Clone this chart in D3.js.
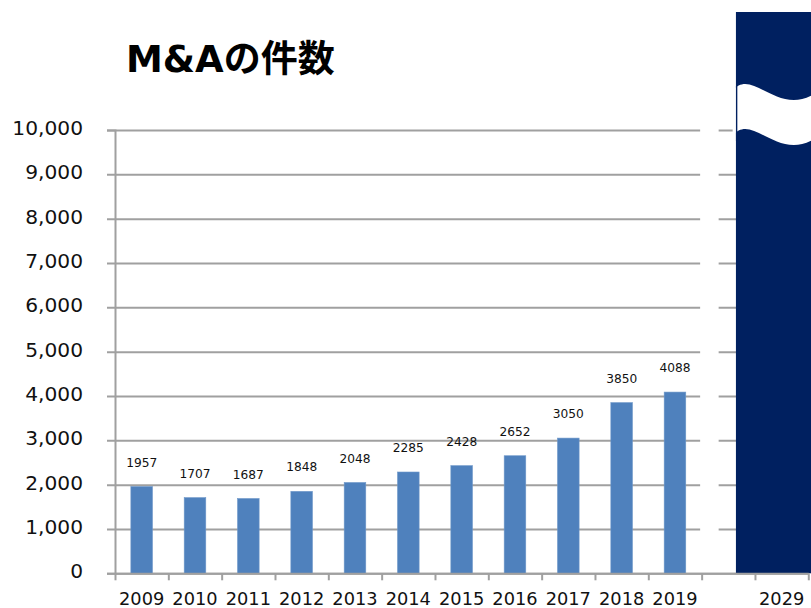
<!DOCTYPE html>
<html>
<head>
<meta charset="utf-8">
<script src="https://cdn.jsdelivr.net/npm/d3@7"></script>
<style>
  body{margin:0;background:#fff}
  text{font-family:"DejaVu Sans","Noto Sans CJK JP",sans-serif}
</style>
</head>
<body>
<div id="chart"></div>
<script>
// data
const categories=['2009','2010','2011','2012','2013','2014','2015','2016','2017','2018','2019','gap','2029']
const tickLabels=['2009','2010','2011','2012','2013','2014','2015','2016','2017','2018','2019','','2029']
const values=[1957,1707,1687,1848,2048,2285,2428,2652,3050,3850,4088,null,null]
const yTicks=[0,1000,2000,3000,4000,5000,6000,7000,8000,9000,10000]
const title='M&Aの件数'

const W=811,H=608
const margin=({top:130,right:2.7,bottom:35,left:115})
const width=W-margin.left-margin.right,
  height=573.3-margin.top

const svg=d3.select('#chart').append('svg')
  .attr('width',W).attr('height',H)

svg.append('text')
  .attr('x',126).attr('y',72)
  .attr('font-size',37).attr('font-weight','bold')
  .attr('fill','#000')
  .text(title)

const g=svg.append('g')
  .attr('transform','translate('+margin.left+','+margin.top+')')

const xScale=d3.scaleBand().domain(categories).range([0,width]).padding(0)
const xLin=d3.scaleLinear().domain([0,categories.length]).range([0,width])
const yScale=d3.scaleLinear().domain([0,10000]).range([height,0])

// gridlines + y axis
const yAxis=d3.axisLeft(yScale).tickValues(yTicks).tickSize(8).tickPadding(24)
  .tickFormat(d3.format(','))
const ya=g.append('g').attr('class','y-axis').call(yAxis)
ya.select('.domain').attr('stroke','#a0a0a0').attr('stroke-width',2)
ya.selectAll('.tick line').attr('stroke','#a0a0a0').attr('stroke-width',2)
  .attr('x2',width)
  .attr('x1',-8)
ya.selectAll('.tick text').attr('font-size',20.2).attr('fill','#111')
  .attr('font-family','"DejaVu Sans",sans-serif').attr('dy','0.22em')

// bars
const bw=xScale.bandwidth()*0.405
const barData=categories.map((c,i)=>({c,v:values[i]})).filter(d=>d.v!=null)
g.selectAll('.bar').data(barData)
  .enter().append('rect')
  .attr('class','bar')
  .attr('x',d=>xScale(d.c)+(xScale.bandwidth()-bw)/2)
  .attr('width',bw)
  .attr('y',d=>yScale(d.v))
  .attr('height',d=>height-yScale(d.v))
  .attr('fill','#4F81BD')
  .attr('stroke','#6d97c9').attr('stroke-width',0.6)

g.selectAll('.val').data(barData)
  .enter().append('text')
  .attr('class','val')
  .attr('x',d=>xScale(d.c)+xScale.bandwidth()/2)
  .attr('y',d=>yScale(d.v)-20)
  .attr('text-anchor','middle')
  .attr('font-size',12.2).attr('fill','#111')
  .text(d=>d.v)

// axis break gap before 2029
const gapX=xScale('gap')
g.append('rect')
  .attr('x',gapX-1.5).attr('width',18.5)
  .attr('y',yScale(10000)-6).attr('height',yScale(0)-yScale(10000)+2)
  .attr('fill','#fff')

// 2029 panel (off scale)
const cx=xScale('2029')+xScale.bandwidth()/2
g.append('rect')
  .attr('x',cx-45.7).attr('width',120)
  .attr('y',12-margin.top).attr('height',height-(12-margin.top))
  .attr('fill','#002060')

// wave break mark
const wave=d3.path()
const wx0=cx-49,wx1=cx+34
const wy=91-margin.top
wave.moveTo(wx0,wy)
wave.bezierCurveTo(wx0+19,wy-25,wx0+45,wy+27,wx1,wy+2)
wave.lineTo(wx1,wy+47)
wave.bezierCurveTo(wx0+45,wy+72,wx0+19,wy+20,wx0,wy+45)
wave.closePath()
g.append('path').attr('d',wave.toString()).attr('fill','#fff')
g.append('line').attr('x1',cx-45.7+0.7).attr('x2',cx-45.7+0.7)
  .attr('y1',wy-5).attr('y2',wy+50).attr('stroke','#002060').attr('stroke-width',1.4)

// x axis
const xAxis=d3.axisBottom(xLin).tickValues(d3.range(categories.length+1))
  .tickSize(7).tickSizeOuter(0).tickFormat('')
const xa=g.append('g').attr('class','x-axis')
  .attr('transform',`translate(0,${height})`).call(xAxis)
xa.select('.domain').attr('stroke','#a0a0a0').attr('stroke-width',2)
xa.selectAll('.tick line').attr('stroke','#a0a0a0').attr('stroke-width',2)

g.selectAll('.xl').data(categories)
  .enter().append('text')
  .attr('class','xl')
  .attr('x',d=>xScale(d)+xScale.bandwidth()/2)
  .attr('y',height+32)
  .attr('text-anchor','middle')
  .attr('font-size',17.8).attr('fill','#111')
  .text((d,i)=>tickLabels[i])
</script>
</body>
</html>
